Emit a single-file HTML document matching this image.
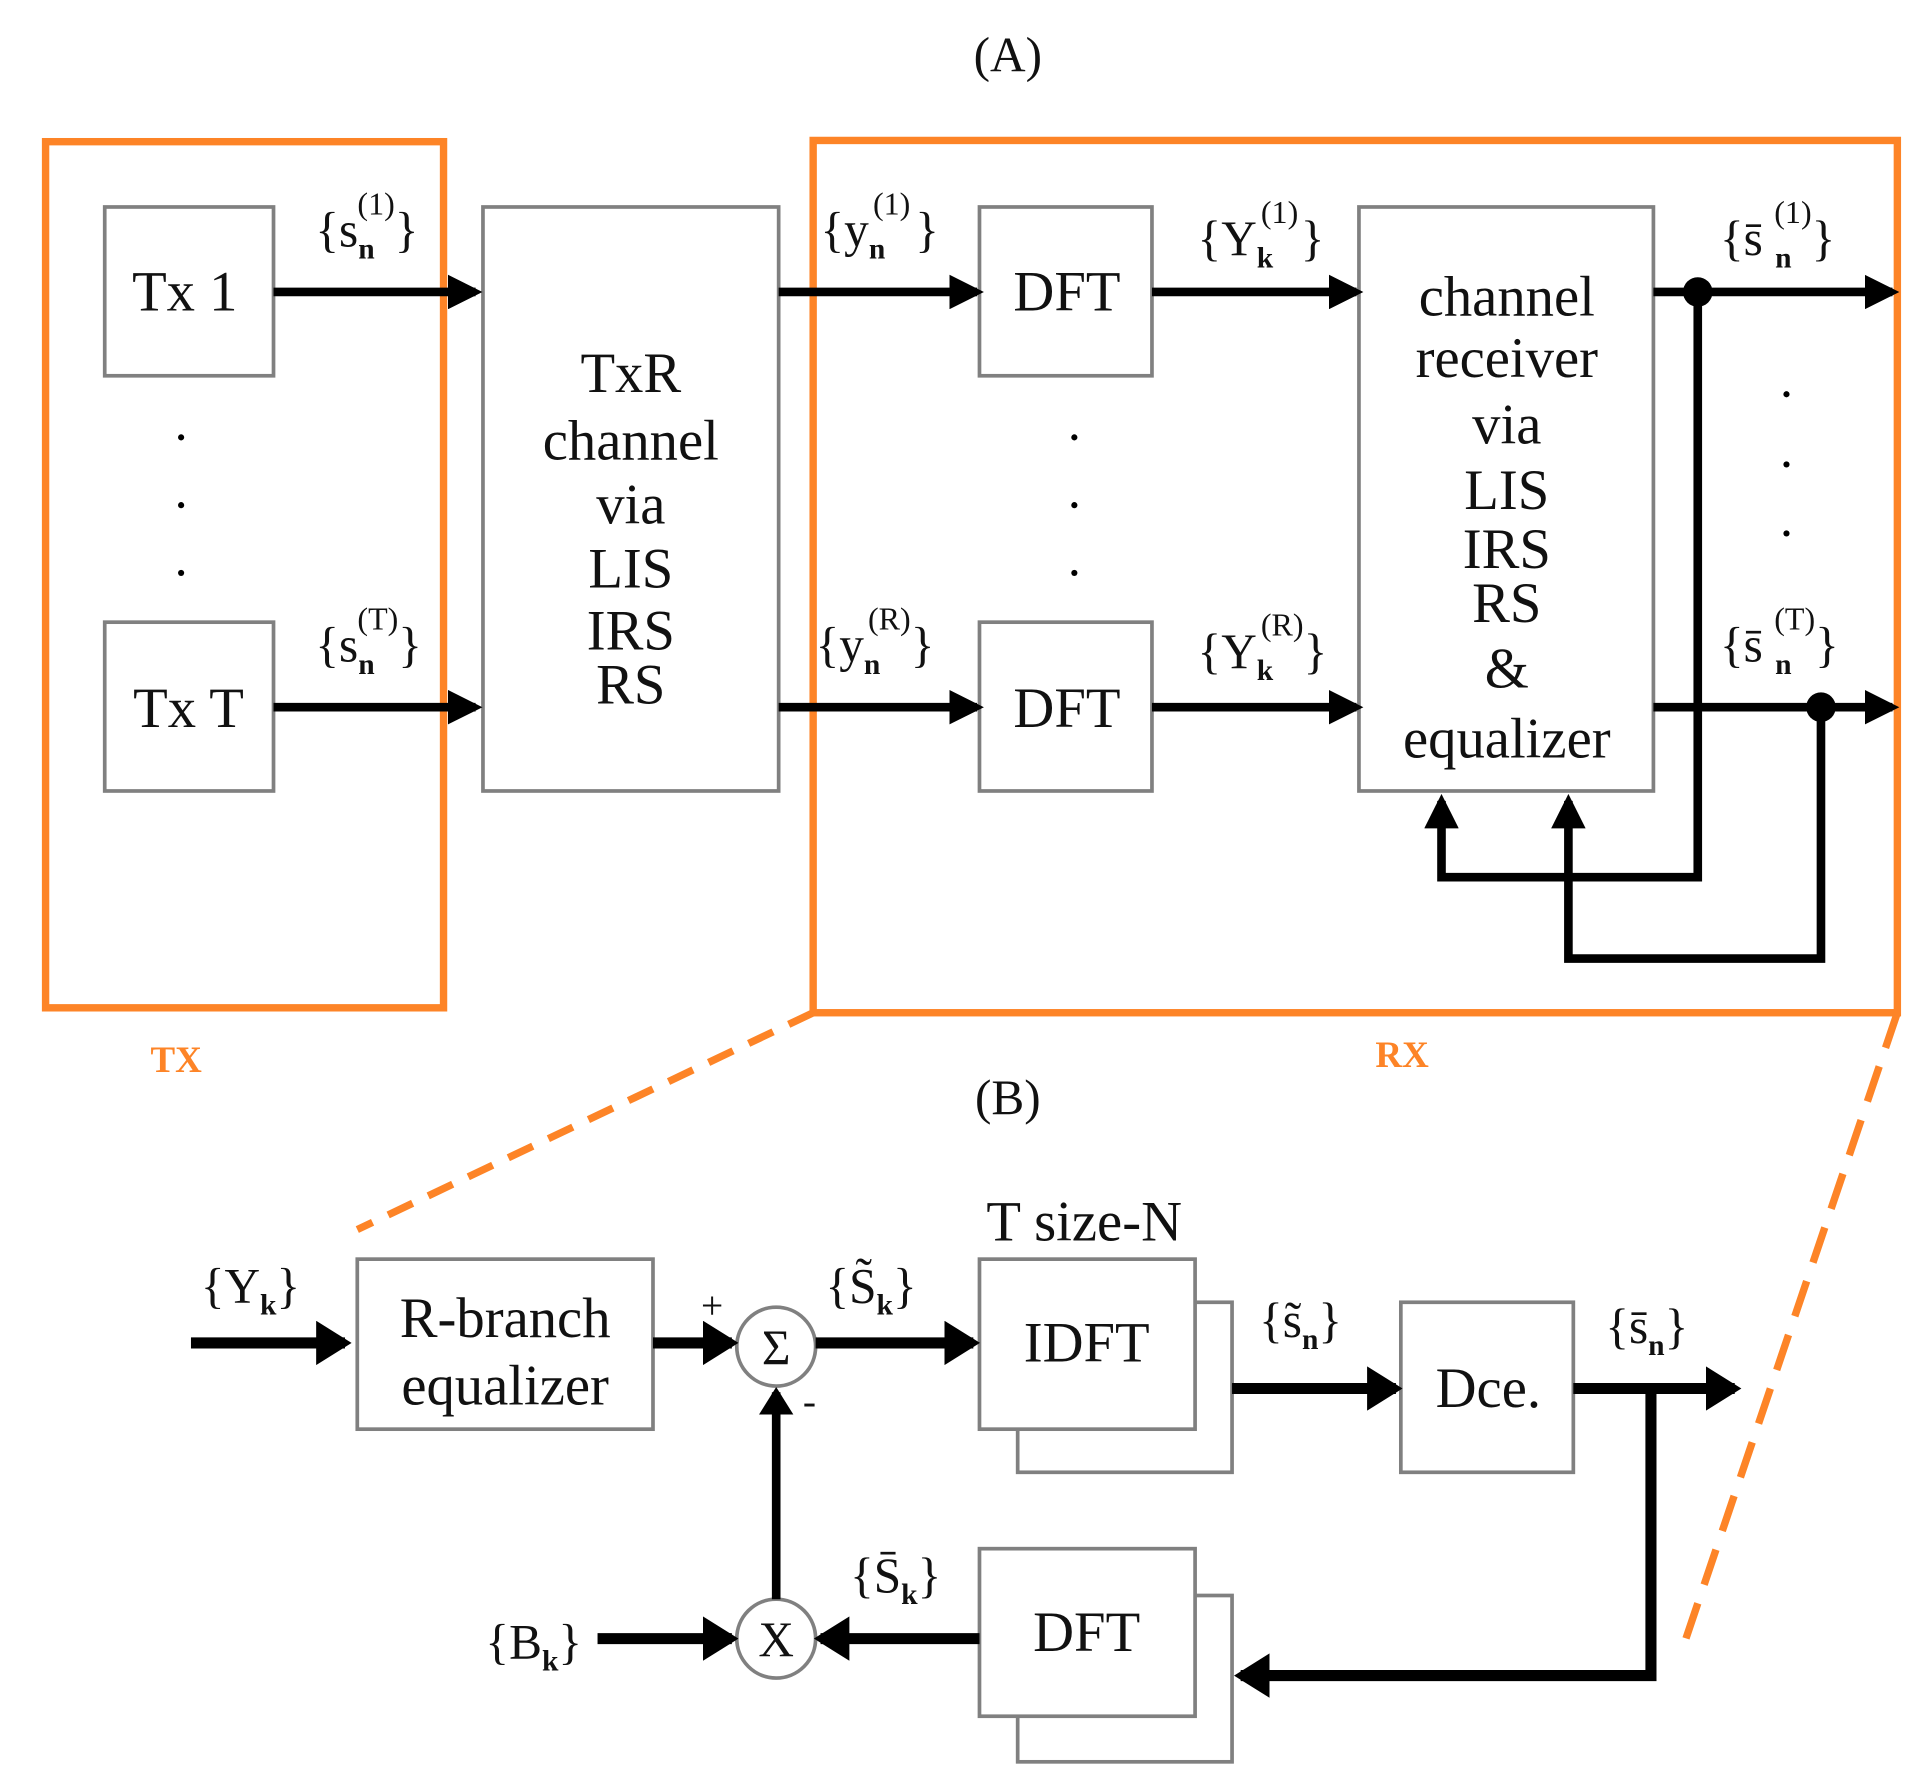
<!DOCTYPE html>
<html><head><meta charset="utf-8"><style>
html,body{margin:0;padding:0;background:#fff}
svg{display:block}
text{font-family:"Liberation Serif",serif;fill:#111}
</style></head><body>
<svg width="1922" height="1784" viewBox="0 0 1560 1448" preserveAspectRatio="none" xmlns="http://www.w3.org/2000/svg">
<defs>
<marker id="a" markerWidth="4" markerHeight="4" refX="3.2" refY="2" orient="auto" markerUnits="strokeWidth"><path d="M0,0 L4,2 L0,4 z" fill="#000"/></marker>
<marker id="b" markerWidth="3.2" markerHeight="4" refX="2.6" refY="2" orient="auto" markerUnits="strokeWidth"><path d="M0,0 L3.2,2 L0,4 z" fill="#000"/></marker>
</defs>
<text x="818" y="58" font-size="40" text-anchor="middle">(A)</text>
<text x="818" y="904" font-size="40" text-anchor="middle">(B)</text>
<g fill="none" stroke="#fd8427" stroke-width="6">
<rect x="37" y="115" width="323" height="703"/>
<rect x="660" y="114" width="880" height="708"/>
<path d="M660,822 L290,998" stroke-dasharray="22,14"/>
<path d="M1540,822 L1365,1340" stroke-dasharray="30,16"/>
</g>
<text x="143" y="870" font-size="30" text-anchor="middle" style="fill:#fd8427" font-weight="bold">TX</text>
<text x="1138" y="866" font-size="30" text-anchor="middle" style="fill:#fd8427" font-weight="bold">RX</text>
<g fill="#fff" stroke="#808080" stroke-width="3">
<rect x="85" y="168" width="137" height="137"/>
<rect x="85" y="505" width="137" height="137"/>
<rect x="392" y="168" width="240" height="474"/>
<rect x="795" y="168" width="140" height="137"/>
<rect x="795" y="505" width="140" height="137"/>
<rect x="1103" y="168" width="239" height="474"/>
<rect x="290" y="1022" width="240" height="138"/>
<rect x="826" y="1057" width="174" height="138"/>
<rect x="795" y="1022" width="175" height="138"/>
<rect x="1137" y="1057" width="140" height="138"/>
<rect x="826" y="1295" width="174" height="135"/>
<rect x="795" y="1257" width="175" height="136"/>
<circle cx="630" cy="1093" r="32"/>
<circle cx="630" cy="1330" r="32"/>
</g>
<g font-size="46" text-anchor="middle">
<text x="150" y="252">Tx 1</text>
<text x="153" y="590">Tx T</text>
<text x="512" y="318">TxR</text><text x="512" y="373">channel</text><text x="512" y="425">via</text><text x="512" y="477">LIS</text><text x="512" y="527">IRS</text><text x="512" y="571">RS</text>
<text x="866" y="252">DFT</text><text x="866" y="590">DFT</text>
<text x="1223" y="256">channel</text><text x="1223" y="306">receiver</text><text x="1223" y="360">via</text><text x="1223" y="413">LIS</text><text x="1223" y="461">IRS</text><text x="1223" y="505">RS</text><text x="1223" y="558">&amp;</text><text x="1223" y="615">equalizer</text>
<text x="410" y="1085">R-branch</text><text x="410" y="1140">equalizer</text>
<text x="882" y="1105">IDFT</text>
<text x="1208" y="1142">Dce.</text>
<text x="882" y="1340">DFT</text>
<text x="880" y="1007" text-anchor="middle">T size-N</text>
<text x="630" y="1107" font-size="40">Σ</text>
<text x="630" y="1344" font-size="40">X</text>
</g>
<g fill="#000">
<circle cx="147" cy="355" r="2.5"/><circle cx="147" cy="410" r="2.5"/><circle cx="147" cy="465" r="2.5"/>
<circle cx="872" cy="355" r="2.5"/><circle cx="872" cy="410" r="2.5"/><circle cx="872" cy="465" r="2.5"/>
<circle cx="1450" cy="320" r="2.5"/><circle cx="1450" cy="377" r="2.5"/><circle cx="1450" cy="433" r="2.5"/>
<circle cx="1378" cy="237" r="12"/><circle cx="1478" cy="574" r="12"/>
</g>
<g stroke="#000" stroke-width="7" fill="none">
<path d="M222,237 H386" marker-end="url(#a)"/>
<path d="M222,574 H386" marker-end="url(#a)"/>
<path d="M632,237 H793" marker-end="url(#a)"/>
<path d="M632,574 H793" marker-end="url(#a)"/>
<path d="M935,237 H1101" marker-end="url(#a)"/>
<path d="M935,574 H1101" marker-end="url(#a)"/>
<path d="M1342,237 H1536" marker-end="url(#a)"/>
<path d="M1342,574 H1536" marker-end="url(#a)"/>
<path d="M1378,237 V712 H1170 V650" marker-end="url(#a)"/>
<path d="M1478,574 V778 H1273 V650" marker-end="url(#a)"/>
</g>
<g stroke="#000" stroke-width="9" fill="none">
<path d="M155,1090 H280" marker-end="url(#b)"/>
<path d="M530,1090 H594" marker-end="url(#b)"/>
<path d="M662,1090 H790" marker-end="url(#b)"/>
<path d="M1000,1127 H1133" marker-end="url(#b)"/>
<path d="M1277,1127 H1408" marker-end="url(#b)"/>
<path d="M485,1330 H594" marker-end="url(#b)"/>
<path d="M795,1330 H666" marker-end="url(#b)"/>
<path d="M1340,1127 V1360 H1007" marker-end="url(#b)"/>
</g>
<path d="M630,1298 V1130" stroke="#000" stroke-width="7" marker-end="url(#b)"/>
<text x="578" y="1070" font-size="32" text-anchor="middle">+</text>
<text x="657" y="1148" font-size="32" text-anchor="middle">-</text>
<g font-size="40">
<text x="256" y="200">{s<tspan font-size="24" font-weight="bold" dy="10">n</tspan><tspan font-size="26" dx="-14" dy="-36">(1)</tspan><tspan dy="26">}</tspan></text>
<text x="256" y="537">{s<tspan font-size="24" font-weight="bold" dy="10">n</tspan><tspan font-size="26" dx="-14" dy="-36">(T)</tspan><tspan dy="26">}</tspan></text>
<text x="666" y="200">{y<tspan font-size="24" font-weight="bold" dy="10">n</tspan><tspan font-size="26" dx="-10" dy="-36">(1)</tspan><tspan dx="4" dy="26">}</tspan></text>
<text x="662" y="537">{y<tspan font-size="24" font-weight="bold" dy="10">n</tspan><tspan font-size="26" dx="-10" dy="-36">(R)</tspan><tspan dy="26">}</tspan></text>
<text x="972" y="207">{Y<tspan font-size="24" font-weight="bold" dy="10">k</tspan><tspan font-size="26" dx="-10" dy="-36">(1)</tspan><tspan dx="2" dy="26">}</tspan></text>
<text x="972" y="542">{Y<tspan font-size="24" font-weight="bold" dy="10">k</tspan><tspan font-size="26" dx="-10" dy="-36">(R)</tspan><tspan dy="26">}</tspan></text>
<text x="1396" y="207">{s̄<tspan font-size="24" font-weight="bold" dx="10" dy="10">n</tspan><tspan font-size="26" dx="-14" dy="-36">(1)</tspan><tspan dy="26">}</tspan></text>
<text x="1396" y="537">{s̄<tspan font-size="24" font-weight="bold" dx="10" dy="10">n</tspan><tspan font-size="26" dx="-14" dy="-36">(T)</tspan><tspan dy="26">}</tspan></text>
<text x="163" y="1057">{Y<tspan font-size="24" font-weight="bold" dy="10">k</tspan><tspan dy="-10">}</tspan></text>
<text x="670" y="1057">{S̃<tspan font-size="24" font-weight="bold" dy="10">k</tspan><tspan dy="-10">}</tspan></text>
<text x="1022" y="1085">{s̃<tspan font-size="24" font-weight="bold" dy="10">n</tspan><tspan dy="-10">}</tspan></text>
<text x="1303" y="1090">{s̄<tspan font-size="24" font-weight="bold" dy="10">n</tspan><tspan dy="-10">}</tspan></text>
<text x="690" y="1292">{S̄<tspan font-size="24" font-weight="bold" dy="10">k</tspan><tspan dy="-10">}</tspan></text>
<text x="394" y="1346">{B<tspan font-size="24" font-weight="bold" dy="10">k</tspan><tspan dy="-10">}</tspan></text>
</g>
</svg>
</body></html>
